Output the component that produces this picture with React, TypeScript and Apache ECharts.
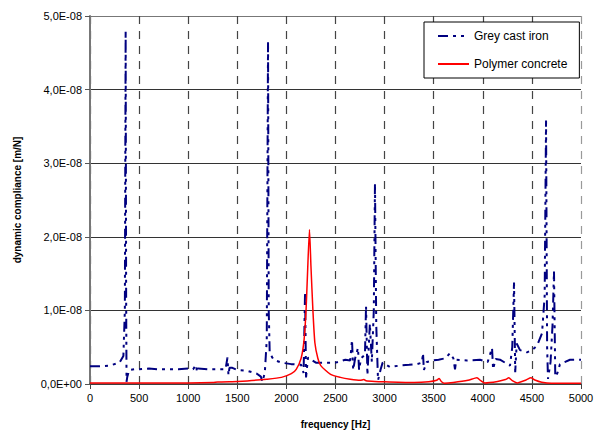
import React, { useEffect, useRef } from "react";
import * as echarts from "echarts";

// frequency [Hz]
const ironFreq = [
  0, 100, 200, 300, 340, 355, 363, 368, 372, 380, 400, 450, 500, 600, 700, 800, 900, 1000, 1050,
  1080, 1090, 1100, 1200, 1300, 1380, 1400, 1410, 1420, 1450, 1500, 1600, 1700, 1740, 1755, 1780,
  1800, 1813, 1820, 1830, 1870, 1950, 2050, 2150, 2175, 2190, 2200, 2220, 2300, 2400, 2500, 2600,
  2650, 2668, 2680, 2700, 2729, 2740, 2760, 2800, 2811, 2825, 2850, 2870, 2890, 2902, 2915, 2933,
  2960, 2980, 3055, 3150, 3250, 3330, 3380, 3391, 3400, 3430, 3493, 3550, 3620, 3666, 3700, 3717,
  3730, 3839, 3971, 4050, 4094, 4105, 4130, 4175, 4277, 4300, 4318, 4330, 4345, 4379, 4450, 4500,
  4552, 4603, 4630, 4644, 4655, 4664, 4690, 4710, 4725, 4738, 4760, 4786, 4888, 5000,
];
// dynamic compliance, in 1e-9 m/N
const ironValues = [
  2.4, 2.4, 2.5, 2.9, 3.8, 10, 48, 12, 0.3, 1.0, 1.9, 2.0, 2.0, 2.1, 2.0, 2.0, 2.0, 2.1, 2.0,
  2.6, 1.6, 2.1, 2.0, 2.0, 2.0, 3.6, 1.2, 2.2, 2.2, 1.9, 1.8, 1.4, 1.0, 0.3, 1.5,
  6, 46.5, 10, 4.2, 3.3, 2.9, 2.7, 2.6, 1.5, 12.5, 0.9, 3.6, 2.9, 2.9, 2.9, 3.3,
  3.2, 6.0, 1.9, 3.5, 4.9, 1.9, 3.5, 4.0, 10.6, 1.2, 8.2, 3.0, 10, 27.3, 8, 0.5,
  2.0, 2.9, 2.3, 2.5, 2.6, 2.7, 2.9, 4.2, 1.9, 3.0, 3.2, 3.3, 3.5, 4.2, 3.5, 2.0,
  3.3, 3.2, 3.3, 3.0, 4.9, 2.0, 3.4, 3.3, 2.5, 5, 13.8, 1.6, 5.5, 4.6, 4.3, 4.6,
  5.2, 6.9, 12, 35.8, 5, 0.7, 3.0, 8, 15.3, 1.0, 1.5, 2.7, 3.3, 3.3,
];

const concreteFreq = [
  0, 500, 1000, 1250, 1300, 1500, 1600, 1800, 1950, 2050, 2100, 2150, 2180, 2200, 2215, 2235,
  2250, 2270, 2290, 2320, 2350, 2450, 2550, 2650, 2750, 2790, 2810, 2900, 3000, 3300, 3450, 3530,
  3555, 3580, 3610, 3700, 3850, 3940, 3980, 4020, 4150, 4230, 4265, 4300, 4350, 4440, 4490, 4530,
  4600, 4700, 5000,
];
const concreteValues = [
  0.15, 0.15, 0.15, 0.2, 0.28, 0.35, 0.42, 0.65, 0.9, 1.4, 2.0, 3.5, 6, 10, 15, 21,
  16, 10, 5.6, 3.5, 2.5, 1.3, 0.9, 0.65, 0.5, 0.6, 0.45, 0.35, 0.3, 0.2, 0.3, 0.5,
  0.75, 0.3, 0.1, 0.2, 0.5, 0.85, 0.45, 0.15, 0.35, 0.6, 0.85, 0.45, 0.15, 0.55, 0.85, 0.55,
  0.25, 0.1, 0.1,
];

const seriesNames = ["Grey cast iron", "Polymer concrete"];
const xTitle = "frequency [Hz]";
const yTitle = "dynamic compliance [m/N]";

const fmtY = (v: number) => {
  if (Math.abs(v) < 1e-20) return "0,0E+00";
  const [m, e] = v.toExponential(1).split("e");
  const exp = parseInt(e, 10);
  const sign = exp < 0 ? "-" : "+";
  const ea = Math.abs(exp);
  return m.replace(".", ",") + "E" + sign + (ea < 10 ? "0" + ea : String(ea));
};

export default function App() {
  const ref = useRef<HTMLDivElement>(null);
  useEffect(() => {
    if (!ref.current) return;
    const chart = echarts.init(ref.current, undefined, { renderer: "svg" });
    const font = "Liberation Sans, Arial, sans-serif";
    const ironData = ironFreq.map((f, i) => [f, ironValues[i] * 1e-9]);
    const concreteData = concreteFreq.map((f, i) => [f, concreteValues[i] * 1e-9]);
    chart.setOption({
      animation: false,
      backgroundColor: "#fff",
      grid: { left: 90, right: 25, top: 16, bottom: 42, show: false },
      legend: {
        orient: "vertical",
        left: 424,
        top: 22,
        padding: [8, 12, 8, 13],
        itemWidth: 31,
        itemHeight: 14,
        itemGap: 16,
        borderColor: "#000",
        borderWidth: 1,
        borderRadius: 0,
        backgroundColor: "#fff",
        itemStyle: { opacity: 0, borderWidth: 0 },
        textStyle: { fontSize: 12, color: "#000", fontFamily: font },
        data: seriesNames,
      },
      xAxis: {
        type: "value",
        min: 0,
        max: 5000,
        interval: 500,
        name: xTitle,
        nameLocation: "middle",
        nameGap: 35,
        nameTextStyle: { fontSize: 10, fontWeight: "bold", color: "#000", fontFamily: font },
        axisLine: { show: true, lineStyle: { color: "#444", width: 1.5 } },
        axisTick: { show: true, inside: false, length: 5, lineStyle: { color: "#444" } },
        axisLabel: {
          fontSize: 11,
          color: "#000",
          fontFamily: font,
          margin: 8,
          formatter: (v: number) => String(Math.round(v)),
        },
        splitLine: {
          show: true,
          lineStyle: {
            type: [8, 7],
            color: ["#444", "#444", "#444", "#444", "#444", "#444", "#444", "#444", "#444", "#444", "#999"],
            width: 1.2,
          },
        },
      },
      yAxis: {
        type: "value",
        min: 0,
        max: 5e-8,
        interval: 1e-8,
        name: yTitle,
        nameLocation: "middle",
        nameGap: 68,
        nameTextStyle: { fontSize: 10, fontWeight: "bold", color: "#000", fontFamily: font },
        axisLine: { show: true, lineStyle: { color: "#777", width: 2 } },
        axisTick: { show: true, inside: false, length: 5, lineStyle: { color: "#555" } },
        axisLabel: { fontSize: 11, color: "#000", fontFamily: font, margin: 8, formatter: fmtY },
        splitLine: {
          show: true,
          lineStyle: { type: "solid", color: ["#333", "#333", "#333", "#333", "#333", "#777"], width: 1 },
        },
      },
      series: [
        {
          name: seriesNames[0],
          type: "line",
          data: ironData,
          symbol: "none",
          lineStyle: { color: "#000080", width: 2, type: [10, 5, 3, 5, 3, 5] },
          itemStyle: { color: "#000080" },
          z: 3,
        },
        {
          name: seriesNames[1],
          type: "line",
          data: concreteData,
          symbol: "none",
          smooth: 0.2,
          lineStyle: { color: "#ff0000", width: 1.5, type: "solid" },
          itemStyle: { color: "#ff0000" },
          z: 4,
        },
      ],
    });
    return () => chart.dispose();
  }, []);
  return (
    <div
      ref={ref}
      style={{ position: "fixed", left: 0, top: 0, width: 606, height: 434 }}
    />
  );
}
